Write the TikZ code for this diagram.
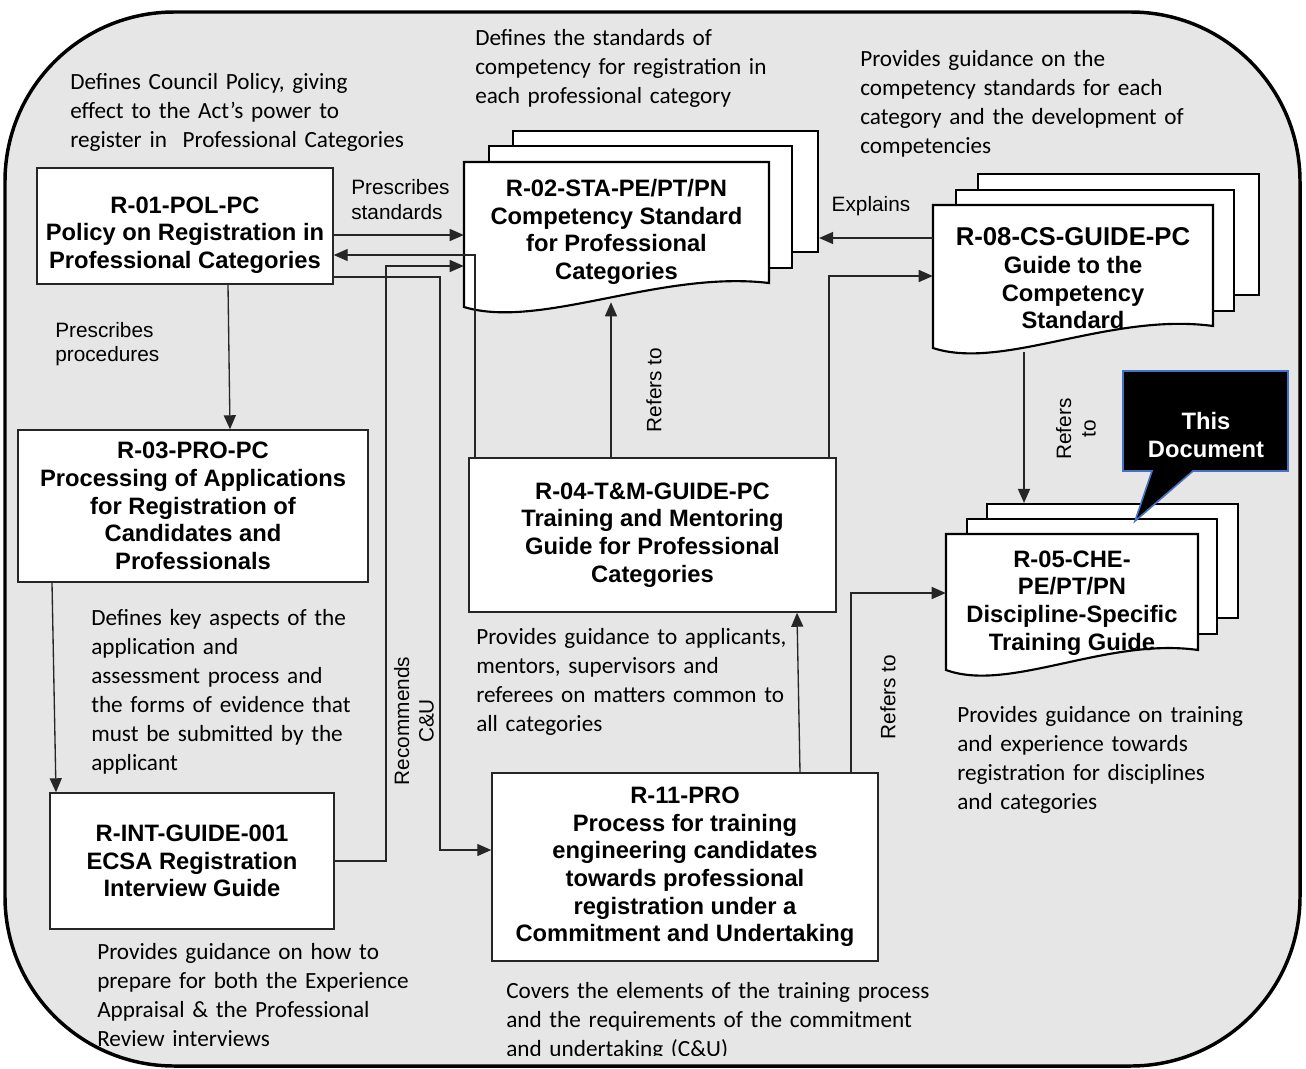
\documentclass[tikz,border=0pt]{standalone}
\usepackage{fontspec}
\usetikzlibrary{arrows.meta}
\newfontfamily\calfont{Carlito}
\newfontfamily\arialfont{Liberation Sans}
\newcommand{\notefont}{\calfont\fontsize{17.4pt}{21.75pt}\selectfont}
\newcommand{\boxfont}{\arialfont\bfseries\fontsize{17.8pt}{20.7pt}\selectfont}
\newcommand{\lblfont}{\arialfont\fontsize{15.6pt}{18.3pt}\selectfont}
\definecolor{framegray}{RGB}{230,230,230}
\definecolor{calloutblue}{RGB}{68,114,196}
\begin{document}
\begin{tikzpicture}[x=0.75pt,y=0.75pt,yscale=-1,xscale=1,
  rbox/.style={draw=black!85, line width=1.1pt, fill=white, font=\boxfont, align=center, inner sep=2pt},
  backsheet/.style={draw=black, line width=1.6pt, fill=white, inner sep=0pt},
  sheet/.style={draw=black, line width=1.6pt, fill=white},
  doctext/.style={font=\boxfont, align=center, inner sep=0pt},
  note/.style={font=\notefont, anchor=base west, text width=340pt, align=left, inner sep=0pt},
  lbl/.style={font=\lblfont, align=left, inner sep=0pt},
  conn/.style={-{Triangle[length=10.5pt,width=9pt]}, line width=1pt, draw=black!85}]
\useasboundingbox (0,0) rectangle (1306,1068);

%Shape: Rounded Rect [id:frame]
\draw [draw=black, line width=2.6pt, fill=framegray, rounded corners=127pt] (5,12) rectangle (1300,1066);

% Text Node
\node [note] (n01) at (70,89) {Defines Council Policy, giving\\effect to the Act’s power to\\register in\ \ Professional Categories};
% Text Node
\node [note] (n02) at (475,45) {Defines the standards of\\competency for registration in\\each professional category};
% Text Node
\node [note] (n08) at (860,66) {Provides guidance on the\\competency standards for each\\category and the development of\\competencies};
% Text Node
\node [note] (n03) at (91,625) {Defines key aspects of the\\application and\\assessment process and\\the forms of evidence that\\must be submitted by the\\applicant};
% Text Node
\node [note] (n04) at (476,644) {Provides guidance to applicants,\\mentors, supervisors and\\referees on matters common to\\all categories};
% Text Node
\node [note] (n05) at (957,722) {Provides guidance on training\\and experience towards\\registration for disciplines\\and categories};
% Text Node
\node [note] (nint) at (97,959) {Provides guidance on how to\\prepare for both the Experience\\Appraisal \& the Professional\\Review interviews};
% Text Node
\begin{scope}
\clip (0,0) rectangle (1306,1055);
\node [note] (n11) at (506,998) {Covers the elements of the training process\\and the requirements of the commitment\\and undertaking (C\&U)};
\end{scope}

%Shape: Rectangle [id:r01]
\node [rbox, minimum width=222pt, minimum height=87pt] (r01) at (185,226) {\rule{0pt}{26pt}R-01-POL-PC\\Policy on Registration in\\Professional Categories};
%Shape: Rectangle [id:r03]
\node [rbox, minimum width=262.5pt, minimum height=114pt] (r03) at (193,506) {R-03-PRO-PC\\Processing of Applications\\for Registration of\\Candidates and\\Professionals};
%Shape: Rectangle [id:rint]
\node [rbox, minimum width=213pt, minimum height=102pt] (rint) at (192,861) {R-INT-GUIDE-001\\ECSA Registration\\Interview Guide};
%Shape: Rectangle [id:r04]
\node [rbox, minimum width=275.25pt, minimum height=115.5pt] (r04) at (652.5,535) {R-04-T\&M-GUIDE-PC\\Training and Mentoring\\Guide for Professional\\Categories};
%Shape: Rectangle [id:r11]
\node [rbox, minimum width=289.5pt, minimum height=141pt] (r11) at (685,867) {R-11-PRO\\Process for training\\engineering candidates\\towards professional\\registration under a\\Commitment and Undertaking};

%Shape: Multi Document [id:r02]
\node [backsheet, minimum width=228.75pt, minimum height=90.75pt] (r02c) at (665.5,191.5) {};
\node [backsheet, minimum width=227.25pt, minimum height=91.5pt] (r02b) at (640.5,207) {};
\draw [sheet] (464,162) -- (769,162) -- (769,283) .. controls (660,270) and (540,330) .. (464,307) -- cycle;
\node [doctext, minimum width=228.75pt, minimum height=105pt] (r02) at (616.5,232) {R-02-STA-PE/PT/PN\\Competency Standard\\for Professional\\Categories};

%Shape: Multi Document [id:r08]
\node [backsheet, minimum width=210.75pt, minimum height=90.75pt] (r08c) at (1118.5,234.5) {};
\node [backsheet, minimum width=208.5pt, minimum height=90.75pt] (r08b) at (1095,250.5) {};
\draw [sheet] (933,205) -- (1213,205) -- (1213,326) .. controls (1110,312) and (1003,371) .. (933,348) -- cycle;
\node [doctext, minimum width=210pt, minimum height=110.25pt] (r08) at (1073,278.5) {{\fontsize{19.3pt}{22pt}\selectfont R-08-CS-GUIDE-PC}\\Guide to the\\Competency\\Standard};

%Shape: Multi Document [id:r05]
\node [backsheet, minimum width=188.25pt, minimum height=85.5pt] (r05c) at (1112.5,561) {};
\node [backsheet, minimum width=187.5pt, minimum height=86.25pt] (r05b) at (1092,576.5) {};
\draw [sheet] (946,534) -- (1198,534) -- (1198,650) .. controls (1107,637) and (1009,693) .. (946,670) -- cycle;
\node [doctext, minimum width=189pt, minimum height=103.5pt] (r05) at (1072,603) {R-05-CHE-\\PE/PT/PN\\Discipline-Specific\\Training Guide};

%Shape: Rectangular Callout [id:thisdoc]
\draw [fill=black, draw=calloutblue, line width=1.2pt] (1123,371) -- (1288,371) -- (1288,471) -- (1193,471) -- (1135,521) -- (1152,471) -- (1123,471) -- cycle;
\node [doctext, text=white] (thisdoc) at (1206,435) {This\\Document};

%Straight Lines [id:c0102]
\draw [conn] (r01.east |- 0,235) -- (r02.west |- 0,235);
%Elbow Lines [id:c0401]
\draw [conn] (r04.north -| 475,0) -- (475,255) -- (r01.east |- 0,255);
%Elbow Lines [id:cint02]
\draw [conn] (rint.east) -| (386,266) -- (r02.west |- 0,266);
%Elbow Lines [id:c0111]
\draw [conn] (r01.east |- 0,277) -| (440,850) -- (r11.west |- 0,850);
%Straight Lines [id:c0402]
\draw [conn] (r04.north -| 611,0) -- (r02.south -| 611,0);
%Elbow Lines [id:c0408]
\draw [conn] (r04.north -| 829,0) |- (r08.west |- 0,276);
%Straight Lines [id:c0802]
\draw [conn] (r08.west |- 0,238) -- (r02c.east |- 0,238);
%Straight Lines [id:c0103]
\draw [conn] (r01.south -| 228,0) -- (r03.north -| 230,0);
%Straight Lines [id:c03int]
\draw [conn] (r03.south -| 52,0) -- (rint.north -| 56,0);
%Straight Lines [id:c1104]
\draw [conn] (r11.north -| 800,0) -- (r04.south -| 797,0);
%Elbow Lines [id:c1105]
\draw [conn] (r11.north -| 851,0) |- (r05.west |- 0,593);
%Straight Lines [id:c0805]
\draw [conn] (r08.south -| 1024,0) -- (r05c.north -| 1024,0);

% Text Node
\node [lbl, anchor=west] (lstd) at (351,199.5) {Prescribes\\standards};
% Text Node
\node [lbl, anchor=west] (lproc) at (55,344) {Prescribes\\procedures};
% Text Node
\node [lbl] (lexpl) at (871,206) {Explains};
% Text Node
\node [lbl, rotate=90] (lref1) at (654,390) {Refers to};
% Text Node
\node [lbl, rotate=90, align=center] (lref2) at (1076,429) {Refers\\to};
% Text Node
\node [lbl, rotate=90, align=center] (lrec) at (414,721) {Recommends\\C\&U};
% Text Node
\node [lbl, rotate=90] (lref3) at (888,697) {Refers to};
\end{tikzpicture}
\end{document}
